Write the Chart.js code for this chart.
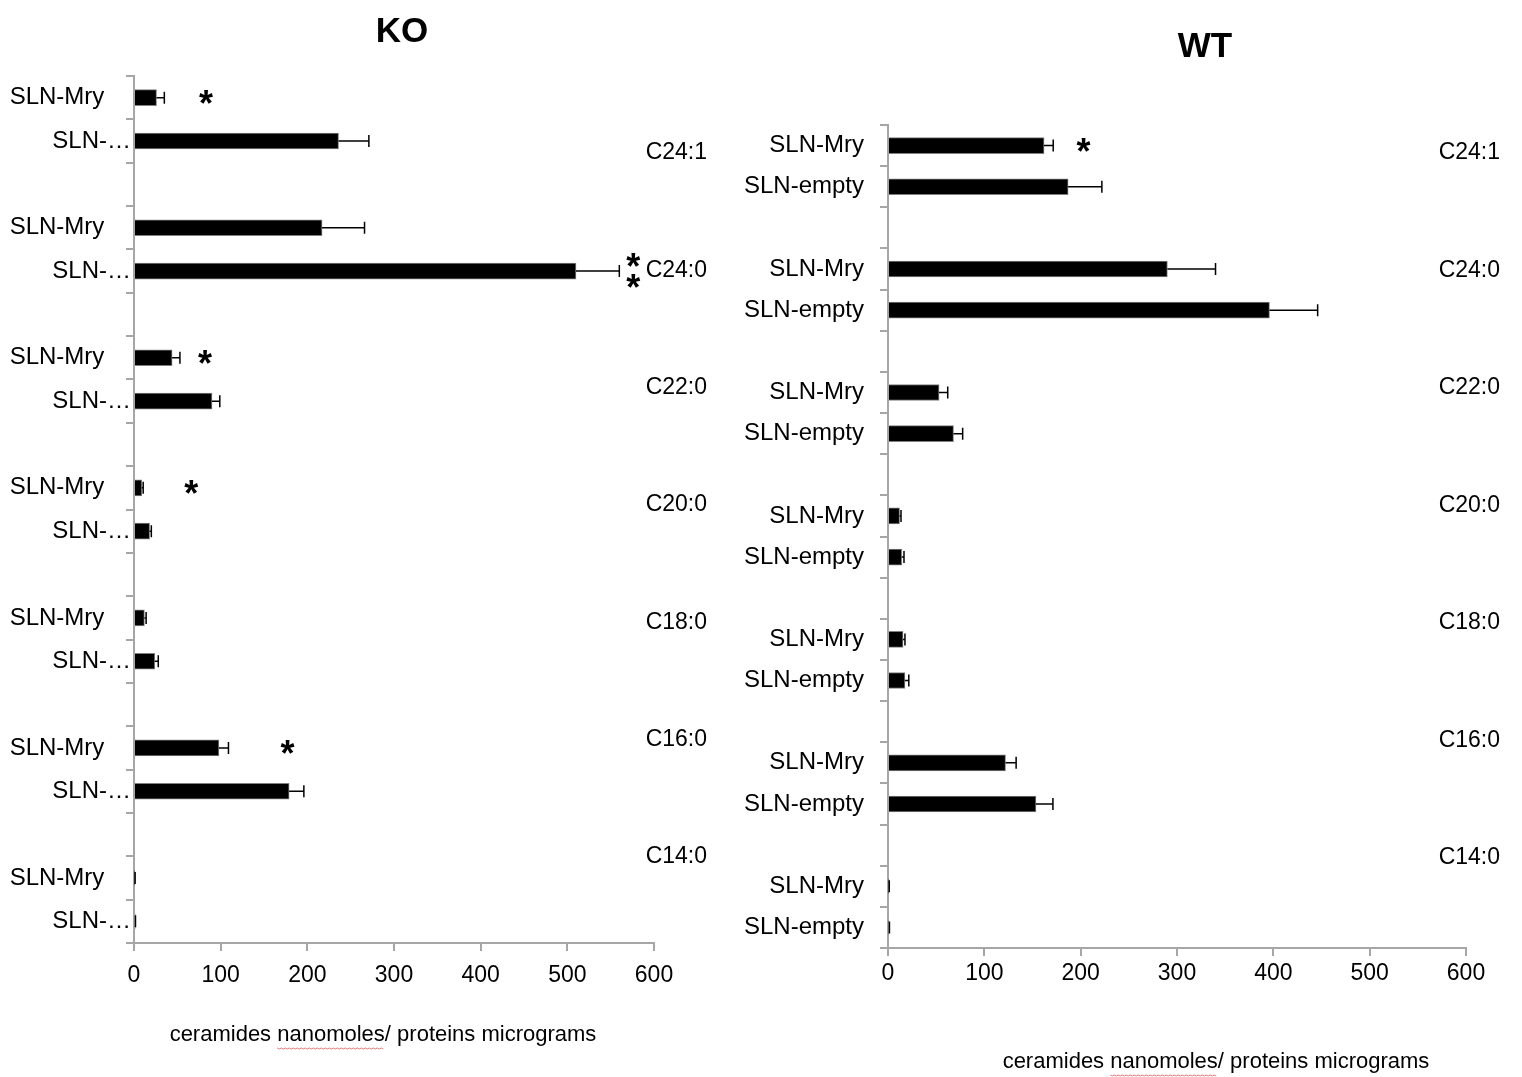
<!DOCTYPE html>
<html>
<head>
  <meta charset="utf-8">
  <title>Ceramides KO / WT</title>
  <script src="https://cdn.jsdelivr.net/npm/chart.js"></script>
  <style>
    html, body {
      margin: 0;
      padding: 0;
      background: #fff;
    }
    .panel {
      position: absolute;
      top: 0;
    }
    #koPanel { left: 0; }
    #wtPanel { left: 740px; }
  </style>
</head>
<body>

<div class="panel" id="koPanel"><canvas id="koChart" width="740" height="1077"></canvas></div>
<div class="panel" id="wtPanel"><canvas id="wtChart" width="782" height="1077"></canvas></div>

<script>
  // ceramide species, top to bottom
  const groups = ['C24:1', 'C24:0', 'C22:0', 'C20:0', 'C18:0', 'C16:0', 'C14:0'];

  const koBarLabels = ['SLN-Mry', 'SLN-…'];
  const wtBarLabels = ['SLN-Mry', 'SLN-empty'];

  // KO (nanomoles / micrograms)
  const koMry      = [26, 217, 44, 9, 12, 98, 0.8];
  const koMryErr   = [9, 49, 9, 1.6, 2, 11, 0.5];
  const koEmpty    = [236, 510, 90, 18, 24, 179, 1.2];
  const koEmptyErr = [35, 50, 9, 2, 4, 17, 0.5];

  // WT
  const wtMry      = [162, 290, 53, 12, 15.6, 122, 0.8];
  const wtMryErr   = [9.5, 50, 9, 1.5, 2, 11, 0.5];
  const wtEmpty    = [187, 396, 68, 14.2, 17.6, 153.6, 1];
  const wtEmptyErr = [35, 50, 9.5, 2.4, 4, 17.6, 0.5];

  // significance marks: group index, bar (0 = Mry, 1 = empty), value where the star sits, how many
  const koStars = [
    { group: 0, bar: 0, at: 83, count: 1 },
    { group: 1, bar: 1, at: 576, count: 2 },
    { group: 2, bar: 0, at: 82, count: 1 },
    { group: 3, bar: 0, at: 66, count: 1 },
    { group: 5, bar: 0, at: 177, count: 1 }
  ];
  const wtStars = [
    { group: 0, bar: 0, at: 203, count: 1 }
  ];

  const xMin = 0, xMax = 600, xStep = 100;
  const xTitle = 'ceramides nanomoles/ proteins micrograms';

  const FONT = "'Liberation Sans', Arial, sans-serif";
  const AXIS_GREY = '#a6a6a6';

  // one category per bar, with an empty category between species (Excel style)
  function buildRows(barLabels, mry, mryErr, empty, emptyErr) {
    const labels = [], values = [], errors = [];
    groups.forEach((g, i) => {
      if (i > 0) { labels.push(''); values.push(null); errors.push(null); }
      labels.push(barLabels[0]); values.push(mry[i]); errors.push(mryErr[i]);
      labels.push(barLabels[1]); values.push(empty[i]); errors.push(emptyErr[i]);
    });
    return { labels, values, errors };
  }

  const figureText = {
    id: 'figureText',
    afterDatasetsDraw(chart, args, opts) {
      const ctx = chart.ctx;
      const xs = chart.scales.x, ys = chart.scales.y;
      const values = chart.data.datasets[0].data;
      const meta = chart.getDatasetMeta(0);
      ctx.save();

      // error bars (positive side only)
      ctx.strokeStyle = '#000';
      ctx.lineWidth = 1.5;
      meta.data.forEach((bar, i) => {
        if (values[i] == null) return;
        const x2 = xs.getPixelForValue(values[i] + opts.errors[i]);
        ctx.beginPath();
        ctx.moveTo(bar.x, bar.y);
        ctx.lineTo(x2, bar.y);
        ctx.moveTo(x2, bar.y - 6);
        ctx.lineTo(x2, bar.y + 6);
        ctx.stroke();
      });

      // asterisks
      ctx.fillStyle = '#000';
      ctx.font = 'bold 36px ' + FONT;
      ctx.textAlign = 'center';
      ctx.textBaseline = 'alphabetic';
      opts.stars.forEach(s => {
        const cy = ys.getPixelForValue(s.group * 3 + s.bar) - 2;
        const cx = xs.getPixelForValue(s.at);
        const offs = s.count === 2 ? [-10.5, 10.5] : [0];
        offs.forEach(o => ctx.fillText('*', cx, cy + o + 20));
      });

      // species labels on the right
      ctx.font = '23px ' + FONT;
      ctx.textAlign = 'right';
      ctx.textBaseline = 'middle';
      groups.forEach((g, i) => {
        ctx.fillText(g, opts.groupRight, opts.groupTop + i * opts.groupStep);
      });

      // panel title
      ctx.font = 'bold 35px ' + FONT;
      ctx.textAlign = 'center';
      ctx.fillText(opts.title, opts.titleX, opts.titleY);

      // x axis title, with the spell-check squiggle under "nanomoles"
      ctx.font = '22px ' + FONT;
      ctx.fillText(xTitle, opts.xTitleX, opts.xTitleY);
      const full = ctx.measureText(xTitle).width;
      const start = opts.xTitleX - full / 2 + ctx.measureText('ceramides ').width;
      const wordW = ctx.measureText('nanomoles').width;
      ctx.strokeStyle = '#e07878';
      ctx.lineWidth = 1;
      ctx.beginPath();
      const uy = opts.xTitleY + 13;
      for (let px = 0; px <= wordW; px += 2) {
        const yy = uy + ((px / 2) % 2 === 0 ? 0 : 1);
        if (px === 0) ctx.moveTo(start + px, yy); else ctx.lineTo(start + px, yy);
      }
      ctx.stroke();

      ctx.restore();
    }
  };

  function makeChart(canvasId, rows, cfg) {
    const ctx = document.getElementById(canvasId).getContext('2d');
    return new Chart(ctx, {
      type: 'bar',
      data: {
        labels: rows.labels,
        datasets: [{
          data: rows.values,
          backgroundColor: '#000',
          borderColor: '#7f7f7f',
          borderWidth: 1,
          barThickness: 16
        }]
      },
      options: {
        indexAxis: 'y',
        responsive: false,
        animation: false,
        layout: { padding: { top: cfg.padTop, right: cfg.padRight, left: 0, bottom: 0 } },
        plugins: {
          legend: { display: false },
          tooltip: { enabled: false },
          figureText: {
            errors: rows.errors,
            stars: cfg.stars,
            title: cfg.title, titleX: cfg.titleX, titleY: cfg.titleY,
            xTitleX: cfg.xTitleX, xTitleY: cfg.xTitleY,
            groupRight: cfg.groupRight, groupTop: cfg.groupTop, groupStep: cfg.groupStep
          }
        },
        scales: {
          y: {
            type: 'category',
            offset: true,
            afterFit: s => { s.width = cfg.axisWidth; },
            grid: { offset: true, drawOnChartArea: false, tickLength: 8, color: AXIS_GREY, lineWidth: 2 },
            border: { color: AXIS_GREY, width: 2 },
            ticks: {
              autoSkip: false,
              color: '#000',
              padding: cfg.labelPad,
              font: { family: FONT, size: 24 },
              callback(value) {
                const t = this.getLabelForValue(value);
                // Excel kept the full labels clear of the axis but let the clipped ones run up to it
                return (cfg.padFull && t && !t.endsWith('…')) ? t + '    ' : t;
              }
            }
          },
          x: {
            type: 'linear',
            min: xMin,
            max: xMax,
            afterFit: s => { s.height = cfg.axisHeight; },
            grid: { drawOnChartArea: false, tickLength: 8, color: AXIS_GREY, lineWidth: 2 },
            border: { color: AXIS_GREY, width: 2 },
            ticks: {
              stepSize: xStep,
              color: '#000',
              padding: cfg.tickPad,
              font: { family: FONT, size: 23 }
            }
          }
        }
      },
      plugins: [figureText]
    });
  }

  makeChart('koChart', buildRows(koBarLabels, koMry, koMryErr, koEmpty, koEmptyErr), {
    title: 'KO', titleX: 402, titleY: 32,
    padTop: 76, padRight: 86, axisWidth: 134, axisHeight: 134,
    labelPad: -5, padFull: true, tickPad: 11,
    xTitleX: 383, xTitleY: 1035,
    groupRight: 707, groupTop: 153, groupStep: 117.3,
    stars: koStars
  });

  makeChart('wtChart', buildRows(wtBarLabels, wtMry, wtMryErr, wtEmpty, wtEmptyErr), {
    title: 'WT', titleX: 465, titleY: 47,
    padTop: 125, padRight: 56, axisWidth: 148, axisHeight: 129,
    labelPad: 16, padFull: false, tickPad: 4,
    xTitleX: 476, xTitleY: 1062,
    groupRight: 760, groupTop: 153, groupStep: 117.5,
    stars: wtStars
  });
</script>

</body>
</html>
